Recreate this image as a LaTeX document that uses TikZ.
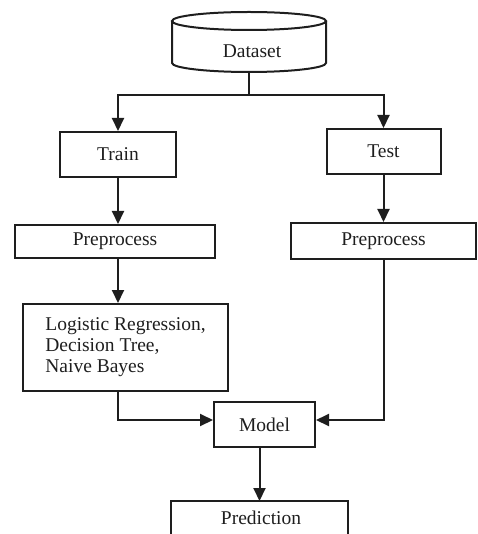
\documentclass[tikz,border=0pt]{standalone}
\usepackage{fontspec}
\setmainfont{Liberation Serif}
\usetikzlibrary{arrows.meta}
\definecolor{ink}{RGB}{30,30,30}
\tikzset{
  box/.style={draw=ink, line width=2pt, rectangle, inner sep=0pt, text=ink,
    font=\fontsize{19.5}{21}\selectfont},
  conn/.style={draw=ink, line width=2pt},
  arr/.style={conn, -{Triangle[length=13pt,width=12pt]}},
  lbl/.style={text=ink, inner sep=0pt, font=\fontsize{19.5}{21}\selectfont}
}
\begin{document}
\begin{tikzpicture}[x=1pt,y=-1pt]
\useasboundingbox (0,0) rectangle (477,534);
% cylinder
\draw[conn] (172,21) -- (172,63) arc[start angle=180,end angle=0,x radius=77,y radius=9] -- (326,21);
\draw[conn] (249,21) ellipse[x radius=77,y radius=9];
\node[lbl] (ds) at (252,51) {Dataset};
\coordinate (dsb) at (249,72);
\coordinate (split) at (249,95);
% boxes
\node[box, minimum width=116, minimum height=45] (train) at (118,154.5) {Train};
\node[box, minimum width=114, minimum height=45] (test) at (383.5,151.5) {Test};
\node[box, minimum width=200, minimum height=33] (pre1) at (115,241.5) {Preprocess};
\node[box, minimum width=185, minimum height=36] (pre2) at (383.5,241) {Preprocess};
\node[box, minimum width=205, minimum height=87, align=left] (lr) at (125.5,347.5)
  {Logistic Regression,\\Decision Tree,\\Naive Bayes};
\node[box, minimum width=101, minimum height=45] (model) at (264.5,424.5) {Model};
\draw[conn] (171,540) -- (171,501) -- (348,501) -- (348,540);
\node[lbl] (pred) at (261,518) {Prediction};
\coordinate (predtop) at (259.5,501);
% connectors
\draw[conn] (dsb) -- (split);
\draw[arr] (split) -| (train.north);
\draw[arr] (split) -| (test.north);
\draw[arr] (train.south) -- (train.south |- pre1.north);
\draw[arr] (test.south) -- (test.south |- pre2.north);
\draw[arr] (train.south |- pre1.south) -- (train.south |- lr.north);
\draw[arr] (train.south |- lr.south) |- ([yshift=4.5pt]model.west);
\draw[arr] (pre2.south) |- ([yshift=4.5pt]model.east);
\draw[arr] (predtop |- model.south) -- (predtop);
\end{tikzpicture}
\end{document}
